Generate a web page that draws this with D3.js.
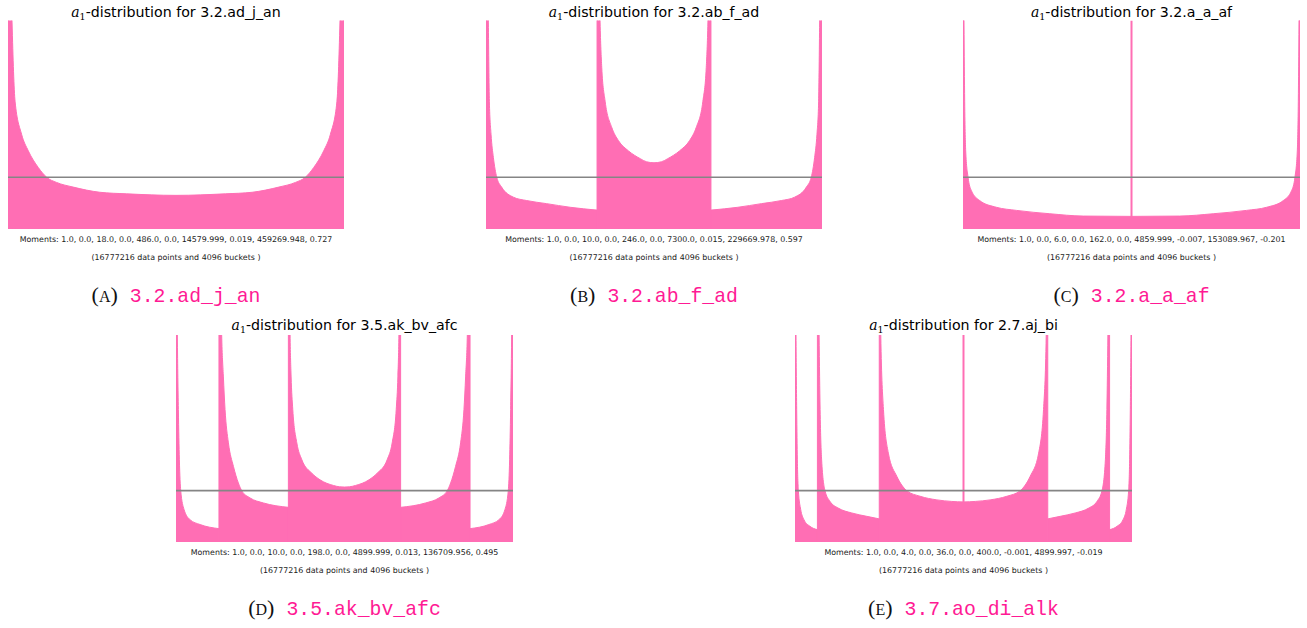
<!DOCTYPE html>
<html>
<head>
<meta charset="utf-8">
<script src="https://cdn.jsdelivr.net/npm/d3@7"></script>
<style>
  body { margin: 0; background: #ffffff; }
</style>
</head>
<body>
<div id="chart"></div>
<script>
// a1-distributions: x in [-1, 1], density relative to the mean level (gray line = 1)
const piecesA = [
  [[-1, 8], [-0.976, 4.0], [-0.958, 2.47], [-0.919, 1.83], [-0.879, 1.51], [-0.820, 1.19], [-0.770, 1.0],
   [-0.711, 0.90], [-0.612, 0.81], [-0.453, 0.71], [-0.294, 0.68], [0, 0.65], [0.294, 0.68], [0.453, 0.71],
   [0.612, 0.81], [0.711, 0.90], [0.770, 1.0], [0.820, 1.19], [0.879, 1.51], [0.919, 1.83], [0.958, 2.47],
   [0.976, 4.0], [1, 8]]
];

const piecesB = [
  [[-1, 8], [-0.986, 4.0], [-0.980, 2.47], [-0.970, 1.83], [-0.956, 1.38], [-0.936, 1.0], [-0.907, 0.81],
   [-0.837, 0.615], [-0.758, 0.55], [-0.639, 0.49], [-0.499, 0.42], [-0.339, 0.365]],
  [[-0.339, 8], [-0.321, 4.0], [-0.311, 3.12], [-0.291, 2.47], [-0.251, 1.96], [-0.212, 1.71], [-0.152, 1.51],
   [-0.082, 1.36], [-0.045, 1.30], [0, 1.28], [0.045, 1.30], [0.082, 1.36], [0.152, 1.51], [0.212, 1.71],
   [0.251, 1.96], [0.291, 2.47], [0.311, 3.12], [0.321, 4.0], [0.339, 8]],
  [[0.339, 0.365], [0.499, 0.42], [0.639, 0.49], [0.758, 0.55], [0.837, 0.615], [0.907, 0.81], [0.936, 1.0],
   [0.956, 1.38], [0.970, 1.83], [0.980, 2.47], [0.986, 4.0], [1, 8]]
];

const piecesC = [
  [[-1, 8], [-0.994, 4.0], [-0.990, 2.47], [-0.984, 1.51], [-0.970, 1.0], [-0.950, 0.74], [-0.901, 0.55],
   [-0.802, 0.42], [-0.683, 0.36], [-0.485, 0.295], [-0.286, 0.25], [0, 0.244], [0.286, 0.25], [0.485, 0.295],
   [0.683, 0.36], [0.802, 0.42], [0.901, 0.55], [0.950, 0.74], [0.970, 1.0], [0.984, 1.51], [0.990, 2.47],
   [0.994, 4.0], [1, 8]]
];

const piecesD = [
  [[-1, 8], [-0.992, 4.04], [-0.986, 2.58], [-0.980, 1.60], [-0.972, 1.0], [-0.952, 0.63], [-0.917, 0.435],
   [-0.857, 0.34], [-0.745, 0.26]],
  [[-0.745, 8], [-0.729, 4.04], [-0.719, 3.23], [-0.709, 2.58], [-0.689, 1.93], [-0.659, 1.47], [-0.630, 1.15],
   [-0.610, 1.0], [-0.560, 0.857], [-0.481, 0.76], [-0.333, 0.675]],
  [[-0.333, 8], [-0.323, 4.04], [-0.317, 3.23], [-0.307, 2.58], [-0.283, 1.93], [-0.253, 1.60], [-0.194, 1.34],
   [-0.145, 1.21], [-0.065, 1.10], [-0.030, 1.075], [0, 1.07], [0.030, 1.075], [0.065, 1.10], [0.145, 1.21],
   [0.194, 1.34], [0.253, 1.60], [0.283, 1.93], [0.307, 2.58], [0.317, 3.23], [0.323, 4.04], [0.333, 8]],
  [[0.333, 0.675], [0.481, 0.76], [0.560, 0.857], [0.610, 1.0], [0.630, 1.15], [0.659, 1.47], [0.689, 1.93],
   [0.709, 2.58], [0.719, 3.23], [0.729, 4.04], [0.745, 8]],
  [[0.745, 0.26], [0.857, 0.34], [0.917, 0.435], [0.952, 0.63], [0.972, 1.0], [0.980, 1.60], [0.986, 2.58],
   [0.992, 4.04], [1, 8]]
];

const piecesE = [
  [[-1, 8], [-0.994, 4.04], [-0.990, 2.58], [-0.986, 1.60], [-0.980, 1.0], [-0.966, 0.63], [-0.947, 0.435],
   [-0.911, 0.305], [-0.867, 0.24]],
  [[-0.867, 8], [-0.857, 4.04], [-0.851, 2.58], [-0.842, 1.60], [-0.822, 1.0], [-0.792, 0.79], [-0.743, 0.66],
   [-0.663, 0.565], [-0.574, 0.50], [-0.5, 0.45]],
  [[-0.5, 8], [-0.491, 4.04], [-0.475, 2.58], [-0.446, 1.73], [-0.396, 1.28], [-0.337, 1.0], [-0.257, 0.89],
   [-0.158, 0.82], [-0.070, 0.79], [0, 0.78], [0.070, 0.79], [0.158, 0.82], [0.257, 0.89], [0.337, 1.0],
   [0.396, 1.28], [0.446, 1.73], [0.475, 2.58], [0.491, 4.04], [0.5, 8]],
  [[0.5, 0.45], [0.574, 0.50], [0.663, 0.565], [0.743, 0.66], [0.792, 0.79], [0.822, 1.0], [0.842, 1.60],
   [0.851, 2.58], [0.857, 4.04], [0.867, 8]],
  [[0.867, 0.24], [0.911, 0.305], [0.947, 0.435], [0.966, 0.63], [0.980, 1.0], [0.986, 1.60], [0.990, 2.58],
   [0.994, 4.04], [1, 8]]
];

// single-bucket spikes (x positions)
const spikesC = [0];
const spikesE = [0];

const meanLevel = 1;

const titleNames = ['3.2.ad_j_an', '3.2.ab_f_ad', '3.2.a_a_af', '3.5.ak_bv_afc', '2.7.aj_bi'];
const moments = [
  'Moments: 1.0, 0.0, 18.0, 0.0, 486.0, 0.0, 14579.999, 0.019, 459269.948, 0.727',
  'Moments: 1.0, 0.0, 10.0, 0.0, 246.0, 0.0, 7300.0, 0.015, 229669.978, 0.597',
  'Moments: 1.0, 0.0, 6.0, 0.0, 162.0, 0.0, 4859.999, -0.007, 153089.967, -0.201',
  'Moments: 1.0, 0.0, 10.0, 0.0, 198.0, 0.0, 4899.999, 0.013, 136709.956, 0.495',
  'Moments: 1.0, 0.0, 4.0, 0.0, 36.0, 0.0, 400.0, -0.001, 4899.997, -0.019'
];
const bucketNote = '(16777216 data points and 4096 buckets )';
const captionLetters = ['A', 'B', 'C', 'D', 'E'];
const captionNames = ['3.2.ad_j_an', '3.2.ab_f_ad', '3.2.a_a_af', '3.5.ak_bv_afc', '3.7.ao_di_alk'];

// layout of the five panels (pixels)
const panels = [
  { pieces: piecesA, spikes: [], x0: 8, x1: 344, top: 20.5, bottom: 229 },
  { pieces: piecesB, spikes: [], x0: 486, x1: 822, top: 20.5, bottom: 229 },
  { pieces: piecesC, spikes: spikesC, x0: 963, x1: 1300, top: 20.5, bottom: 229 },
  { pieces: piecesD, spikes: [], x0: 176, x1: 513, top: 335, bottom: 542 },
  { pieces: piecesE, spikes: spikesE, x0: 795, x1: 1132, top: 335, bottom: 542 }
];

const pink = '#ff6eb4';
const captionPink = '#ff1a94';
const yMax = 4.03;

const svg = d3.select('#chart')
  .append('svg')
  .attr('width', 1307)
  .attr('height', 628);

panels.forEach((p, i) => {
  const x = d3.scaleLinear().domain([-1, 1]).range([p.x0, p.x1]);
  const y = d3.scaleLinear().domain([0, yMax]).range([p.bottom, p.top]);
  const cx = (p.x0 + p.x1) / 2;

  svg.append('clipPath')
    .attr('id', `clip${i}`)
    .append('rect')
    .attr('x', p.x0)
    .attr('y', p.top)
    .attr('width', p.x1 - p.x0)
    .attr('height', p.bottom - p.top);

  const g = svg.append('g').attr('clip-path', `url(#clip${i})`);

  const area = d3.area()
    .x(d => x(d[0]))
    .y0(y(0))
    .y1(d => y(d[1]))
    .curve(d3.curveMonotoneX);

  g.selectAll('path.piece')
    .data(p.pieces)
    .join('path')
    .attr('class', 'piece')
    .attr('fill', pink)
    .attr('stroke', pink)
    .attr('stroke-width', 1)
    .attr('d', area);

  g.selectAll('line.spike')
    .data(p.spikes)
    .join('line')
    .attr('class', 'spike')
    .attr('x1', d => x(d))
    .attr('x2', d => x(d))
    .attr('y1', y(0))
    .attr('y2', y(yMax))
    .attr('stroke', pink)
    .attr('stroke-width', 2);

  // mean level line
  g.append('line')
    .attr('x1', p.x0)
    .attr('x2', p.x1)
    .attr('y1', y(meanLevel))
    .attr('y2', y(meanLevel))
    .attr('stroke', '#858585')
    .attr('stroke-width', 1.6);

  // title
  const title = svg.append('text')
    .attr('x', cx)
    .attr('y', p.top - (i < 3 ? 3.5 : 5))
    .attr('text-anchor', 'middle')
    .attr('font-family', 'DejaVu Sans')
    .attr('font-size', '14.2px')
    .attr('fill', '#000');
  title.append('tspan')
    .attr('font-family', 'DejaVu Serif')
    .attr('font-style', 'italic')
    .attr('font-size', '14px')
    .text('a');
  title.append('tspan')
    .attr('font-family', 'DejaVu Serif')
    .attr('font-size', '9.5px')
    .attr('dy', 3)
    .text('1');
  title.append('tspan')
    .attr('dy', -3)
    .text(`-distribution for ${titleNames[i]}`);

  svg.append('text')
    .attr('x', cx)
    .attr('y', p.bottom + 12.5)
    .attr('text-anchor', 'middle')
    .attr('font-family', 'DejaVu Sans')
    .attr('font-size', '7.9px')
    .attr('fill', '#1a1a1a')
    .text(moments[i]);

  svg.append('text')
    .attr('x', cx)
    .attr('y', p.bottom + 30.5)
    .attr('text-anchor', 'middle')
    .attr('font-family', 'DejaVu Sans')
    .attr('font-size', '7.9px')
    .attr('fill', '#1a1a1a')
    .text(bucketNote);

  // subfigure caption
  const cap = svg.append('text')
    .attr('x', cx)
    .attr('y', p.bottom + 72.5)
    .attr('text-anchor', 'middle')
    .attr('font-family', 'Liberation Serif')
    .attr('font-size', '22px')
    .attr('fill', '#111');
  cap.append('tspan').text('(');
  cap.append('tspan').attr('font-size', '16px').text(captionLetters[i]);
  cap.append('tspan').text(')');
  cap.append('tspan')
    .attr('dx', 12)
    .attr('font-family', 'Liberation Mono')
    .attr('font-size', '19.8px')
    .attr('fill', captionPink)
    .text(captionNames[i]);
});
</script>
</body>
</html>
